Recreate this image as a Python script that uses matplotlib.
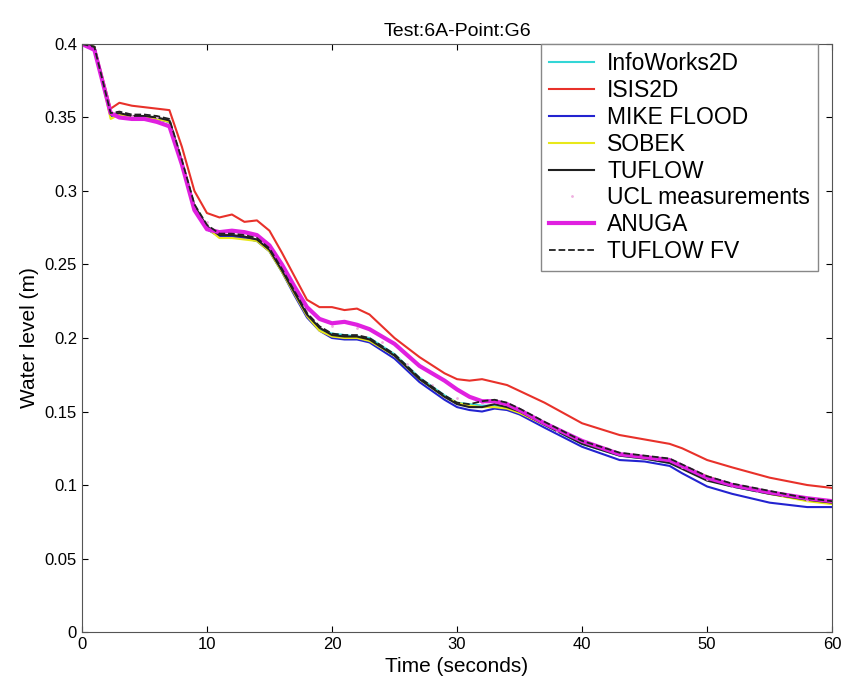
import matplotlib
matplotlib.use('Agg')
import matplotlib.pyplot as plt

plt.rcParams['font.family'] = ['Liberation Sans', 'DejaVu Sans']

### time knots (seconds)
t = [0, 1, 2.3, 3, 4, 5, 6, 7, 8, 9, 10, 11, 12, 13, 14, 15, 16, 17, 18, 19, 20, 21, 22, 23,
     25, 27, 29, 30, 31, 32, 33, 34, 35, 37, 40, 43, 45, 47, 48, 50, 52, 55, 58, 60]

### water level (m) for each model
tuflow = [0.400, 0.398, 0.352, 0.353, 0.351, 0.351, 0.350, 0.348, 0.320, 0.290, 0.276, 0.270,
          0.270, 0.269, 0.267, 0.260, 0.246, 0.231, 0.216, 0.207, 0.202, 0.201, 0.201, 0.199,
          0.188, 0.172, 0.160, 0.155, 0.153, 0.153, 0.155, 0.153, 0.150, 0.141, 0.128, 0.120,
          0.118, 0.115, 0.111, 0.103, 0.099, 0.094, 0.090, 0.088]
isis2d = [0.400, 0.398, 0.356, 0.360, 0.358, 0.357, 0.356, 0.355, 0.330, 0.300, 0.285, 0.282,
          0.284, 0.279, 0.280, 0.273, 0.258, 0.242, 0.226, 0.221, 0.221, 0.219, 0.220, 0.216,
          0.200, 0.187, 0.176, 0.172, 0.171, 0.172, 0.170, 0.168, 0.164, 0.156, 0.142, 0.134,
          0.131, 0.128, 0.125, 0.117, 0.112, 0.105, 0.100, 0.098]
mike = [0.400, 0.398, 0.351, 0.352, 0.350, 0.350, 0.349, 0.347, 0.318, 0.288, 0.274, 0.269,
        0.269, 0.268, 0.266, 0.259, 0.245, 0.229, 0.214, 0.205, 0.200, 0.199, 0.199, 0.197,
        0.186, 0.170, 0.158, 0.153, 0.151, 0.150, 0.152, 0.151, 0.148, 0.139, 0.126, 0.117,
        0.116, 0.113, 0.108, 0.099, 0.094, 0.088, 0.085, 0.085]
sobek = [0.400, 0.398, 0.349, 0.352, 0.350, 0.350, 0.349, 0.347, 0.319, 0.289, 0.275, 0.268,
         0.268, 0.267, 0.266, 0.259, 0.245, 0.230, 0.215, 0.205, 0.201, 0.200, 0.200, 0.198,
         0.188, 0.172, 0.160, 0.156, 0.154, 0.153, 0.153, 0.152, 0.149, 0.141, 0.129, 0.121,
         0.118, 0.116, 0.113, 0.106, 0.100, 0.094, 0.089, 0.087]
infoworks = [0.400, 0.398, 0.351, 0.352, 0.351, 0.350, 0.349, 0.347, 0.319, 0.289, 0.275, 0.269,
             0.270, 0.268, 0.266, 0.259, 0.245, 0.230, 0.215, 0.206, 0.203, 0.202, 0.201, 0.200,
             0.189, 0.173, 0.161, 0.156, 0.155, 0.154, 0.154, 0.152, 0.150, 0.141, 0.128, 0.120,
             0.118, 0.115, 0.112, 0.104, 0.099, 0.094, 0.090, 0.088]
anuga = [0.400, 0.396, 0.353, 0.350, 0.349, 0.349, 0.347, 0.344, 0.318, 0.287, 0.274, 0.272,
         0.273, 0.272, 0.270, 0.263, 0.250, 0.235, 0.221, 0.213, 0.210, 0.211, 0.209, 0.206,
         0.196, 0.181, 0.171, 0.165, 0.160, 0.157, 0.157, 0.155, 0.151, 0.142, 0.130, 0.121,
         0.119, 0.117, 0.113, 0.105, 0.100, 0.095, 0.091, 0.089]
tuflowfv = [0.400, 0.398, 0.353, 0.354, 0.352, 0.352, 0.351, 0.349, 0.321, 0.291, 0.277, 0.271,
            0.271, 0.270, 0.268, 0.261, 0.247, 0.232, 0.217, 0.208, 0.203, 0.202, 0.202, 0.200,
            0.189, 0.173, 0.161, 0.156, 0.155, 0.157, 0.158, 0.156, 0.152, 0.143, 0.130, 0.122,
            0.120, 0.118, 0.114, 0.106, 0.101, 0.096, 0.091, 0.089]

### measurements (faint dots)
t_meas = [0.5, 2, 4, 6, 8, 10, 12, 14, 16, 18, 20, 22, 24, 26, 28, 30, 32, 34, 36, 38, 40,
          42, 44, 46, 48, 50, 52, 54, 56, 58, 60]
h_meas = [0.398, 0.360, 0.351, 0.350, 0.322, 0.279, 0.272, 0.269, 0.248, 0.219, 0.208, 0.207,
          0.197, 0.182, 0.168, 0.159, 0.156, 0.155, 0.146, 0.137, 0.130, 0.125, 0.121, 0.118,
          0.112, 0.104, 0.099, 0.096, 0.093, 0.090, 0.089]

fig = plt.figure(figsize=(8.44, 6.87), dpi=100)
ax = fig.add_axes([0.097, 0.080, 0.889, 0.856])

ax.plot(t, infoworks, color='#33d6d6', lw=1.5, label='InfoWorks2D')
ax.plot(t, isis2d, color='#e8312a', lw=1.5, label='ISIS2D')
ax.plot(t, mike, color='#2323d0', lw=1.5, label='MIKE FLOOD')
ax.plot(t, sobek, color='#e8e81a', lw=1.5, label='SOBEK')
ax.plot(t, tuflow, color='#202020', lw=1.5, label='TUFLOW')
ax.plot(t_meas, h_meas, ls='none', marker='.', ms=2, color='#f0b0e0', label='UCL measurements')
ax.plot(t, anuga, color='#e020e0', lw=3, label='ANUGA')
ax.plot(t, tuflowfv, color='#202020', lw=1.3, ls='--', label='TUFLOW FV')

ax.set_xlim(0, 60)
ax.set_ylim(0, 0.4)
ax.set_xticks([0, 10, 20, 30, 40, 50, 60])
ax.set_yticks([0, 0.05, 0.1, 0.15, 0.2, 0.25, 0.3, 0.35, 0.4])
ax.set_yticklabels(['0', '0.05', '0.1', '0.15', '0.2', '0.25', '0.3', '0.35', '0.4'])
ax.tick_params(direction='in', top=True, right=True, labelsize=12, length=4)
for s in ax.spines.values():
    s.set_color('#555555')

ax.set_xlabel('Time (seconds)', fontsize=15)
ax.set_ylabel('Water level (m)', fontsize=15)
ax.set_title('Test:6A-Point:G6', fontsize=14)

leg = ax.legend(loc='upper right', fontsize=16.5, handlelength=2.0, labelspacing=0.17,
                borderpad=0.35, handletextpad=0.55, fancybox=False, framealpha=1,
                bbox_to_anchor=(0.981, 1.0), borderaxespad=0)
leg.get_frame().set_edgecolor('#888888')

fig.savefig('out.png', dpi=100)
